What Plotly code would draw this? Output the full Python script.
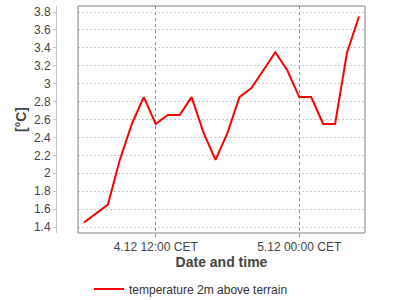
import plotly.graph_objects as go

times = [
    "2023-12-04 06:00", "2023-12-04 08:00", "2023-12-04 09:00", "2023-12-04 10:00",
    "2023-12-04 11:00", "2023-12-04 12:00", "2023-12-04 13:00", "2023-12-04 14:00",
    "2023-12-04 15:00", "2023-12-04 16:00", "2023-12-04 17:00", "2023-12-04 18:00",
    "2023-12-04 19:00", "2023-12-04 20:00", "2023-12-04 21:00", "2023-12-04 22:00",
    "2023-12-04 23:00", "2023-12-05 00:00", "2023-12-05 01:00", "2023-12-05 02:00",
    "2023-12-05 03:00", "2023-12-05 04:00", "2023-12-05 05:00",
]
temps = [
    1.45, 1.65, 2.15, 2.55,
    2.85, 2.55, 2.65, 2.65,
    2.85, 2.45, 2.15, 2.45,
    2.85, 2.95, 3.15, 3.35,
    3.15, 2.85, 2.85, 2.55,
    2.55, 3.35, 3.75,
]
x_tick_vals = ["2023-12-04 12:00", "2023-12-05 00:00"]
x_tick_text = ["4.12 12:00 CET", "5.12 00:00 CET"]
series_name = "temperature 2m above terrain"

W, H = 400, 300
ml, mr, mt, mb = 56, 35, 6, 67
pw = W - ml - mr
x_dom0 = (78 - ml) / pw

fig = go.Figure()
fig.add_trace(go.Scatter(
    x=times, y=temps, mode="lines", name=series_name,
    line=dict(color="#ff0000", width=2),
))

tick_font = dict(family="Liberation Sans, Arial, sans-serif", size=12, color="#444444")
title_font = dict(family="Liberation Sans, Arial, sans-serif", size=14, color="#444444", weight="bold")

fig.update_layout(
    width=W, height=H,
    margin=dict(l=ml, r=mr, t=mt, b=mb, pad=0),
    paper_bgcolor="white", plot_bgcolor="white",
    showlegend=True,
    legend=dict(
        orientation="h", xref="container", yref="container",
        x=0.5 - 9 / 400, xanchor="center", y=1 - 289 / 300, yanchor="middle",
        font=dict(family="Liberation Sans, Arial, sans-serif", size=12, color="#333333"),
        itemwidth=30,
    ),
    xaxis=dict(
        domain=[x_dom0, 1],
        type="date",
        range=["2023-12-04 05:30", "2023-12-05 05:30"],
        tickmode="array", tickvals=x_tick_vals, ticktext=x_tick_text,
        showgrid=True, gridcolor="#888888", griddash="dot", gridwidth=1,
        showline=False, zeroline=False,
        ticks="outside", ticklen=3, tickcolor="#888888",
        tickfont=tick_font,
        title=dict(text="Date and time", font=title_font, standoff=3),
        automargin=False,
    ),
    yaxis=dict(
        anchor="free", position=0,
        range=[1.333, 3.867],
        tickmode="linear", tick0=1.4, dtick=0.2,
        showgrid=True, gridcolor="#c8c8c8", griddash="2px,2px", gridwidth=1,
        showline=True, linecolor="#c8c8c8", linewidth=1,
        zeroline=False,
        ticks="outside", ticklen=3, tickcolor="#c8c8c8",
        tickfont=tick_font,
        title=dict(text="[°C]", font=title_font, standoff=3),
        automargin=False,
    ),
    shapes=[dict(
        type="rect", xref="x domain", yref="y domain", x0=0, x1=1, y0=0, y1=1,
        line=dict(color="#808080", width=1), fillcolor="rgba(0,0,0,0)", layer="above",
    )],
)

fig.write_html("out.html")
